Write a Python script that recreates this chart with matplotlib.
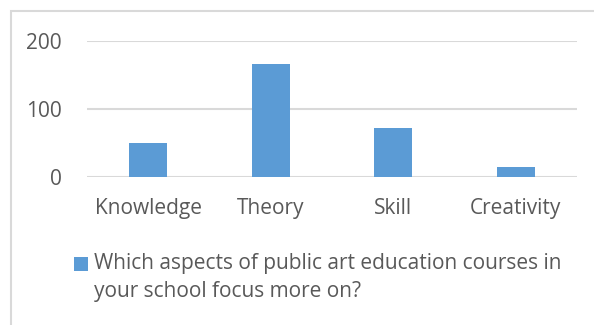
import matplotlib.pyplot as plt
from matplotlib.patches import Rectangle
from matplotlib.container import BarContainer
from matplotlib.legend_handler import HandlerPatch, update_from_first_child

categories = ['Knowledge', 'Theory', 'Skill', 'Creativity']
values = [49, 166, 71, 14]
series_name = 'Which aspects of public art education courses in\nyour school focus more on?'
y_ticks = [0, 100, 200]

bar_color = '#5b9bd5'
text_color = '#595959'

plt.rcParams['font.family'] = ['Open Sans', 'DejaVu Sans']

W, H = 594, 325
fig = plt.figure(figsize=(W / 100, H / 100), dpi=100)
# chart frame (right and bottom edges run off the picture)
fig.patches.append(Rectangle((11 / W, -0.1), 1.2, 1 - 11 / H + 0.1,
                             transform=fig.transFigure, fill=False,
                             edgecolor='#d9d9d9', linewidth=1.5))

ax = fig.add_axes([87 / W, 1 - 176.7 / H, (577 - 87) / W, (176.7 - 40.7) / H])
x = range(len(categories))
ax.bar(x, values, width=0.31, color=bar_color, zorder=3, label=series_name)
ax.set_xlim(-0.5, len(categories) - 0.5)
ax.set_ylim(0, 200)
ax.set_yticks(y_ticks)
ax.set_xticks(list(x))
ax.set_xticklabels(categories)
ax.grid(axis='y', color='#d9d9d9', linewidth=1.5, zorder=0)
for s in ax.spines.values():
    s.set_visible(False)
ax.tick_params(length=0, labelsize=15, colors=text_color)
ax.tick_params(axis='x', pad=15)
ax.tick_params(axis='y', pad=18)


# legend key sits next to the first line of the label, like Excel does
def top_square(legend, orig_handle, xdescent, ydescent, width, height, fontsize):
    return Rectangle((-xdescent, -ydescent + 0.67 * fontsize), width, height)


leg = fig.legend(loc='upper left', bbox_to_anchor=(74 / W, 1 - 253 / H),
                 frameon=False, fontsize=15, handlelength=0.67, handleheight=0.67,
                 handletextpad=0.3, borderpad=0, borderaxespad=0,
                 labelcolor=text_color,
                 handler_map={BarContainer: HandlerPatch(
                     patch_func=top_square, update_func=update_from_first_child)})
for t in leg.get_texts():
    t.set_linespacing(1.45)

fig.savefig('out.png', dpi=100)
